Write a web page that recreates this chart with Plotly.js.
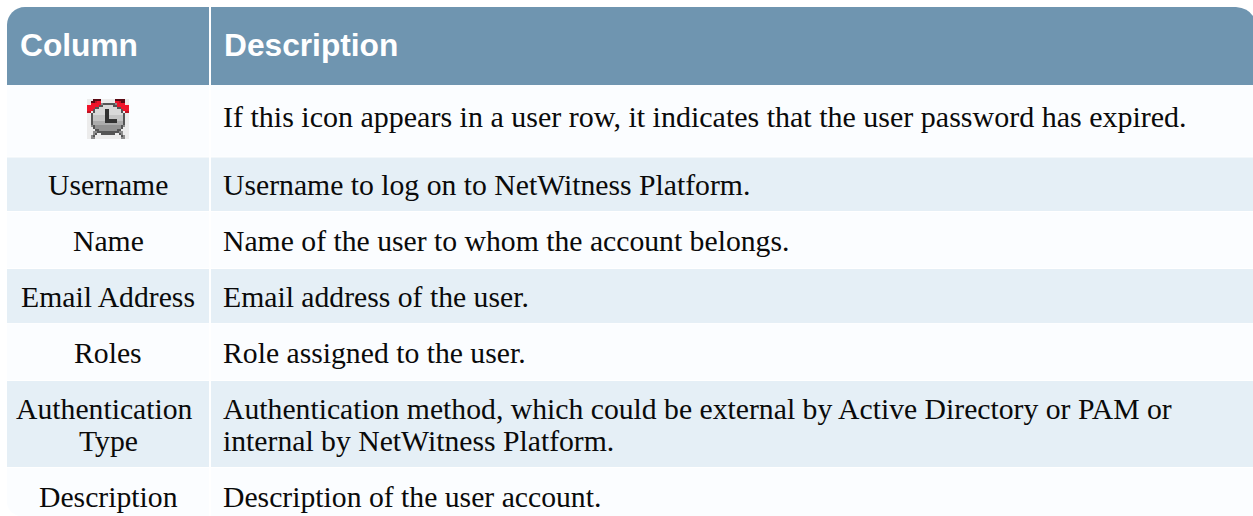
<!DOCTYPE html>
<html><head><meta charset="utf-8">
<script src="https://cdn.plot.ly/plotly-3.0.1.min.js"></script>
<style>html,body{margin:0;padding:0;background:#fff}#c{width:1253px;height:516px}</style>
</head><body><div id="c"></div>
<script>
const headers = ["Column", "Description"];
const columnLines = [
  [""],
  ["Username"],
  ["Name"],
  ["Email Address"],
  ["Roles"],
  ["Authentication", "Type"],
  ["Description"]
];
const descriptionLines = [
  ["If this icon appears in a user row, it indicates that the user password has expired."],
  ["Username to log on to NetWitness Platform."],
  ["Name of the user to whom the account belongs."],
  ["Email address of the user."],
  ["Role assigned to the user."],
  ["Authentication method, which could be external by Active Directory or PAM or", "internal by NetWitness Platform."],
  ["Description of the user account."]
];
const rowTops = [85, 157.5, 212, 269, 323.5, 381, 468];
const rowBottoms = [156.5, 211, 268, 323, 380, 467, 516];
const rowCenters = [116, 185, 241, 297, 353, 425, 497];
const rowFontSizes = [30, 29.7, 29.7, 29.7, 29.7, 29.7, 29.7];

const iconPalette = {
  ".":[236,236,236], D:[92,10,20], r:[190,20,35], R:[240,20,42], K:[85,85,85], G:[140,140,140],
  a:[216,216,216], b:[196,196,196], c:[172,172,172], d:[146,146,146], L:[50,50,50]
};
const iconRows = [
  "...DDDD.......DDDDD..",
  "..DDrRR.......RRrDD..",
  "..RRRRRGKKKKKKGRRRR..",
  "RRRRRRKKaaaaaKKRRRRRR",
  "RRRRKKaaaaaaaaaKKRRRR",
  "RRRKaaaaaLLaaaaaaKRRR",
  "rr.KaaaaaLLaaaaaaK.rr",
  "..KaaaaaaLLaaaaaaaK..",
  "..KbbbbbbLLbbbbbbbK..",
  "..KbbbbbbLLbbbbbbbK..",
  "..KbbbbbbLLLLLLbbbK..",
  "..KccccccLLLLLLcccK..",
  "..KcccccccccccccccK..",
  "..GKdddddddddddddKG..",
  "...KdddddddddddddK...",
  "....KKdddddddddKK....",
  "...GGKKKKKKKKKKKGG...",
  "...GK..KKKKKKK..KG...",
  "..GK.............KG..",
  "..GG.............GG.."
];

const col1 = [7, 209], col2 = [211, 1253];
const headColor = "#6f95b0", bandColor = "#e5eff6", lightColor = "#fbfdff";
const serif = "'Liberation Serif', serif", sans = "'Liberation Sans', sans-serif";
const headSize = 31.7, lineGap = 32;

const shapes = [];
const rectShape = (x0, x1, y0, y1, c) => ({type:"rect", xref:"x", yref:"y", x0, x1, y0, y1, fillcolor:c, line:{width:0}, layer:"below"});
const pathShape = (path, c) => ({type:"path", xref:"x", yref:"y", path, fillcolor:c, line:{width:0}, layer:"below"});
shapes.push(pathShape("M7,85 L7,25 C7,15 15,7 25,7 L209,7 L209,85 Z", headColor));
shapes.push(pathShape("M211,85 L211,7 L1236,7 Q1248,8 1253,16 L1253,85 Z", headColor));
rowTops.forEach((t, i) => {
  const c = i % 2 === 0 ? lightColor : bandColor;
  if (i === rowTops.length - 1) {
    shapes.push(pathShape("M7," + t + " L209," + t + " L209,516 L19,516 C12,514 7,509 7,502 Z", c));
  } else {
    shapes.push(rectShape(col1[0], col1[1], t, rowBottoms[i], c));
  }
  shapes.push(rectShape(col2[0], col2[1], t, rowBottoms[i], c));
});

const annotations = [];
const addText = (text, x, y, anchor, size, family, color, bold) => annotations.push({
  text: bold ? "<b>" + text + "</b>" : text, x, y, xref:"x", yref:"y", xanchor:anchor, yanchor:"middle",
  showarrow:false, align:anchor, borderpad:0, font:{family, size, color}
});
addText(headers[0], 18.5, 45, "left", headSize, sans, "#ffffff", true);
addText(headers[1], 223, 45, "left", headSize, sans, "#ffffff", true);
rowCenters.forEach((cy, i) => {
  const size = rowFontSizes[i];
  columnLines[i].forEach((s, k) => {
    const n = columnLines[i].length;
    const cx = (n > 1 && k < n - 1) ? 104.5 : 108;
    if (s) addText(s, cx, cy + (k - (n - 1) / 2) * lineGap, "center", size, serif, "#0a0a0a");
  });
  descriptionLines[i].forEach((s, k) => addText(s, 222, cy + (k - (descriptionLines[i].length - 1) / 2) * lineGap, "left", size, serif, "#0a0a0a"));
});

const iconTrace = {
  type:"image", hoverinfo:"skip", x0:88, y0:100, dx:2, dy:2,
  z: iconRows.map(r => r.split("").map(ch => iconPalette[ch]))
};

Plotly.newPlot("c", [iconTrace], {
  width:1253, height:516, margin:{l:0,r:0,t:0,b:0}, paper_bgcolor:"#ffffff", plot_bgcolor:"#ffffff",
  xaxis:{range:[0,1253], visible:false, fixedrange:true},
  yaxis:{range:[516,0], visible:false, fixedrange:true},
  showlegend:false, shapes, annotations
}, {displayModeBar:false, staticPlot:true});
</script></body></html>
